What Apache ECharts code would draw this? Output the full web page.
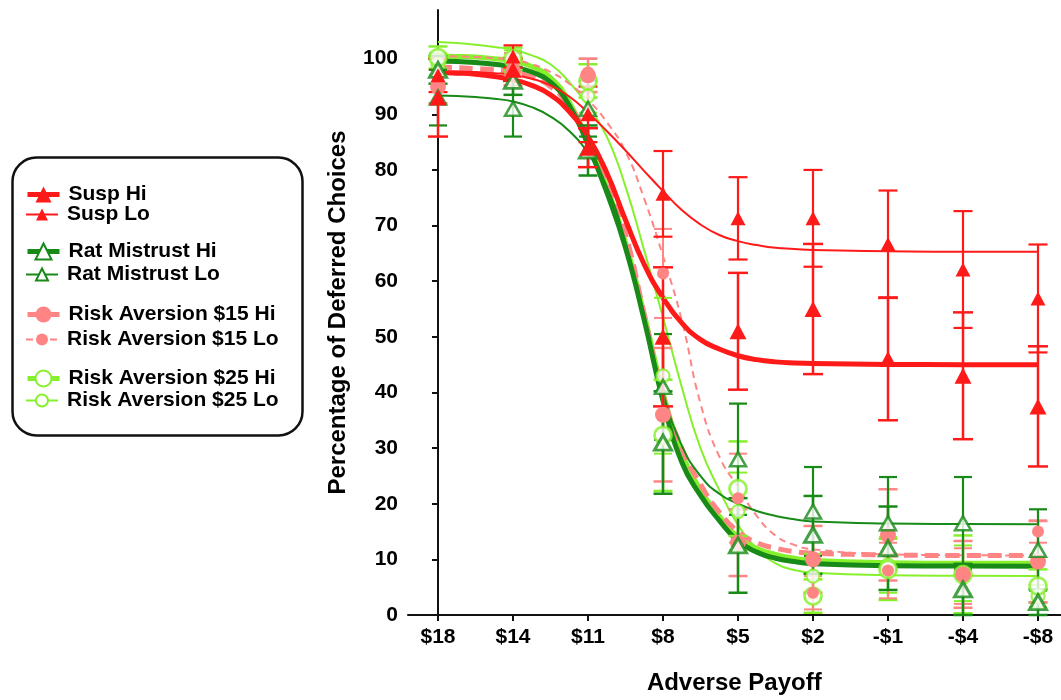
<!DOCTYPE html>
<html><head><meta charset="utf-8">
<script src="https://cdn.jsdelivr.net/npm/echarts@6/dist/echarts.min.js"></script>
<style>html,body{margin:0;padding:0;background:#fff}#c{width:1061px;height:700px}</style>
</head><body><div id="c"></div>
<script>
// ---------- data ----------
const categories = ['$18','$14','$11','$8','$5','$2','-$1','-$4','-$8'];
const yTicks = [0,10,20,30,40,50,60,70,80,90,100];
const xTicks = [0,1,2,3,4,5,6,7,8];

const suspHi     = [93, 98, 84, 50, 51, 55, 46, 43, 37.5];
const suspHiErr  = [7, 2, 3.5, 12.5, 10.5, 11.7, 11, 11.4, 10.8];
const suspLo     = [97, 100.4, 90, 75.7, 71.3, 71.3, 66.7, 62.1, 56.9];
const suspLoErr  = [3, 2, 5, 7.7, 7.4, 8.7, 9.6, 10.5, 9.7];

const ratHi      = [98, 96, 83.5, 31, 12.5, 14.4, 12, 4.6, 2.3];
const ratHiErr   = [2.5, 2.5, 4.5, 9.2, 8.5, 7, 7.5, 4.6, 2.3];
const ratLo      = [93, 91, 91, 41, 28, 18.6, 16.5, 16.5, 11.7];
const ratLoErr   = [5, 5, 5, 9.5, 10, 8, 8.3, 8.3, 7.3];

const ra15Hi     = [95, 97.7, 97, 36, 13, 10, 14.4, 7.3, 9.6];
const ra15HiErr  = [3, 2.5, 3, 12, 6, 6, 8.2, 6, 7.3];
const ra15Lo     = [97, 99, 97.5, 61.4, 21, 4, 8, 7, 15];
const ra15LoErr  = [3, 2, 2.5, 8, 8, 3, 5, 5, 2];

const ra25Hi     = [100.2, 100, 96, 32.3, 22.7, 3.4, 8.2, 7.3, 5.2];
const ra25HiErr  = [2, 2, 3, 10, 8.5, 3, 5.5, 7, 3];
const ra25Lo     = [99, 99.5, 93.3, 43, 18.6, 7, 9, 7.5, 3.4];
const ra25LoErr  = [2, 2, 3, 14, 7, 4, 5, 5, 2];

// fitted curves at these x positions (category index units)
const fitX = [0,0.25,0.5,0.75,1,1.25,1.5,1.75,2,2.25,2.5,2.75,3,3.25,3.5,3.75,4,4.25,4.5,4.75,5,6,7,8];
const fitSuspHi = [97.5,97.4,97.2,96.8,96.2,95.2,93.5,90.5,86,79.5,71,63,57,52.5,49.5,47.8,46.6,45.9,45.5,45.3,45.2,45.05,45,45];
const fitSuspLo = [97.7,97.7,97.6,97.4,97.1,96.4,95.2,93.2,90.3,87,83.5,79.8,76.2,72.8,70.2,68.3,67.2,66.5,66,65.8,65.6,65.4,65.3,65.3];
const fitRatHi  = [99.6,99.5,99.3,99,98.5,97.6,95.8,91.6,84.5,76,66,53,38.5,27.5,21.5,17,13.3,11.3,10.2,9.6,9.2,8.85,8.8,8.75];
const fitRatLo  = [93.4,93.3,93.1,92.8,92.3,91.3,89.6,87,83,77,67,53.5,40,30.5,25,21.8,20,18.7,17.8,17.2,16.8,16.45,16.35,16.3];
const fitRa15Hi = [98.5,98.4,98.2,98,97.6,96.7,95,91.5,86,78.5,68.5,54,39.5,30,23.5,18.5,15,13,12,11.4,11.1,10.8,10.7,10.7];
const fitRa15Lo = [100.5,100.4,100.3,100.1,99.8,99,97.6,95.5,92.6,88.6,83.3,74.8,64.5,53,38,28.5,23,17.8,14.3,12.6,11.8,10.9,10.75,10.7];
const fitRa25Hi = [100.5,100.4,100.3,100,99.6,98.6,96.6,92.2,85,77,67,54,40,29.2,22.5,17.8,14,12,10.9,10.2,9.8,9.4,9.3,9.3];
const fitRa25Lo = [103,102.8,102.5,102.1,101.6,100.6,99,95.8,91.5,86,77,65.5,53.5,41,30,22.5,16.2,12,9.3,8.1,7.6,7.15,7.05,7];

// ---------- styling ----------
const RED = '#FF1A1A', DKG = '#178A17', PINK = '#FF8585', LIME = '#86F02C';
const FONT = "'Liberation Sans', Arial, Helvetica, sans-serif";

function group(name, color, vals, errs, fy, o) {
  const line = {
    type: 'line', name, z: 2,
    data: fitX.map((x, i) => [x, fy[i]]),
    smooth: 0.5,
    showSymbol: false, symbol: o.legendSymbol, symbolSize: 10,
    itemStyle: { color },
    lineStyle: { color, width: o.lw, type: o.dash || 'solid', join: 'round' },
    silent: true
  };
  const err = {
    type: 'custom', name, z: 3,
    data: vals.map((v, i) => [i, v, errs[i]]),
    renderItem: function (params, api) {
      const x = api.value(0), y = api.value(1), e = api.value(2);
      const t = api.coord([x, y + e]), b = api.coord([x, y - e]);
      const hw = o.cap / 2;
      const st = { stroke: color, lineWidth: o.elw };
      return { type: 'group', children: [
        { type: 'line', shape: { x1: t[0], y1: t[1], x2: b[0], y2: b[1] }, style: st },
        { type: 'line', shape: { x1: t[0] - hw, y1: t[1], x2: t[0] + hw, y2: t[1] }, style: st },
        { type: 'line', shape: { x1: b[0] - hw, y1: b[1], x2: b[0] + hw, y2: b[1] }, style: st }
      ]};
    }
  };
  const pts = {
    type: 'scatter', name, z: 4,
    data: vals.map((v, i) => [i, v]),
    symbol: o.symbol, symbolSize: o.size,
    itemStyle: o.open ? { color: '#fff', borderColor: color, borderWidth: o.bw }
                      : { color: color, borderColor: color, borderWidth: 0, opacity: 1 }
  };
  return [line, err, pts];
}

const series = [].concat(
  group('Risk Aversion $25 Lo', LIME, ra25Lo, ra25LoErr, fitRa25Lo,
        { lw: 2, elw: 2, cap: 18, symbol: 'circle', legendSymbol: 'emptyCircle', size: 13, open: true, bw: 2.2 }),
  group('Risk Aversion $25 Hi', LIME, ra25Hi, ra25HiErr, fitRa25Hi,
        { lw: 5, elw: 2.5, cap: 19, symbol: 'circle', legendSymbol: 'emptyCircle', size: 17, open: true, bw: 2.8 }),
  group('Risk Aversion $15 Lo', PINK, ra15Lo, ra15LoErr, fitRa15Lo,
        { lw: 2, elw: 2, cap: 18, dash: [7, 5], symbol: 'circle', legendSymbol: 'circle', size: 12 }),
  group('Risk Aversion $15 Hi', PINK, ra15Hi, ra15HiErr, fitRa15Hi,
        { lw: 5, elw: 2.5, cap: 19, dash: [14, 7], symbol: 'circle', legendSymbol: 'circle', size: 16 }),
  group('Rat Mistrust Lo', DKG, ratLo, ratLoErr, fitRatLo,
        { lw: 2, elw: 2.2, cap: 18, symbol: 'triangle', legendSymbol: 'emptyTriangle', size: [16, 14], open: true, bw: 2.5 }),
  group('Rat Mistrust Hi', DKG, ratHi, ratHiErr, fitRatHi,
        { lw: 5, elw: 2.5, cap: 19, symbol: 'triangle', legendSymbol: 'emptyTriangle', size: [17, 15], open: true, bw: 3 }),
  group('Susp Lo', RED, suspLo, suspLoErr, fitSuspLo,
        { lw: 2, elw: 2.2, cap: 19, symbol: 'triangle', legendSymbol: 'triangle', size: [15, 14] }),
  group('Susp Hi', RED, suspHi, suspHiErr, fitSuspHi,
        { lw: 5, elw: 2.5, cap: 20, symbol: 'triangle', legendSymbol: 'triangle', size: [17, 16] })
);

const legendRows = [
  { name: 'Susp Hi', c: 194, h: 20, w: 5 },
  { name: 'Susp Lo', c: 214, h: 15, w: 2 },
  { name: 'Rat Mistrust Hi', c: 251, h: 20, w: 5 },
  { name: 'Rat Mistrust Lo', c: 274, h: 15, w: 2 },
  { name: 'Risk Aversion $15 Hi', c: 314, h: 20, w: 5 },
  { name: 'Risk Aversion $15 Lo', c: 339, h: 15, w: 2 },
  { name: 'Risk Aversion $25 Hi', c: 378, h: 20, w: 5 },
  { name: 'Risk Aversion $25 Lo', c: 400, h: 15, w: 2 }
];
const legends = legendRows.map(r => ({
  data: [{ name: r.name, lineStyle: { width: r.w } }],
  left: 25, top: r.c - 10, padding: 0, orient: 'vertical',
  itemWidth: 32, itemHeight: r.h, selectedMode: false,
  textStyle: { fontFamily: FONT, fontWeight: 'bold', fontSize: 21, color: '#000', lineHeight: 20, padding: [0, 0, 0, 4] }
}));

const chart = echarts.init(document.getElementById('c'), null, { renderer: 'canvas' });
chart.setOption({
  animation: false,
  backgroundColor: '#fff',
  grid: { left: 408, right: 0.5, top: 10, bottom: 78, containLabel: false },
  legend: legends,
  graphic: [{
    type: 'rect', left: 10, top: 155, z: 100,
    shape: { width: 290, height: 278, r: 24 },
    style: { fill: 'none', stroke: '#111', lineWidth: 2.5 }
  }],
  xAxis: {
    type: 'value', min: -0.4, max: 8.3,
    name: 'Adverse Payoff', nameLocation: 'middle', nameGap: 56,
    nameTextStyle: { fontFamily: FONT, fontWeight: 'bold', fontSize: 24, color: '#000' },
    axisLine: { show: true, onZero: false, lineStyle: { color: '#111', width: 2 } },
    axisTick: { show: true, length: 6, lineStyle: { color: '#111', width: 2 }, customValues: xTicks },
    axisLabel: { customValues: xTicks, margin: 12, formatter: v => categories[Math.round(v)] || '',
                 fontFamily: FONT, fontWeight: 'bold', fontSize: 21, color: '#000' },
    splitLine: { show: false }
  },
  yAxis: {
    type: 'value', min: 0, max: 108.75,
    name: 'Percentage of Deferred Choices', nameLocation: 'middle', nameGap: 58, nameRotate: 90,
    nameTextStyle: { fontFamily: FONT, fontWeight: 'bold', fontSize: 24, color: '#000' },
    axisLine: { show: true, lineStyle: { color: '#111', width: 2 } },
    axisTick: { show: true, length: 6, lineStyle: { color: '#111', width: 2 }, customValues: yTicks },
    axisLabel: { customValues: yTicks, margin: 10, fontFamily: FONT, fontWeight: 'bold', fontSize: 21, color: '#000' },
    splitLine: { show: false }
  },
  series: series
});
</script></body></html>
